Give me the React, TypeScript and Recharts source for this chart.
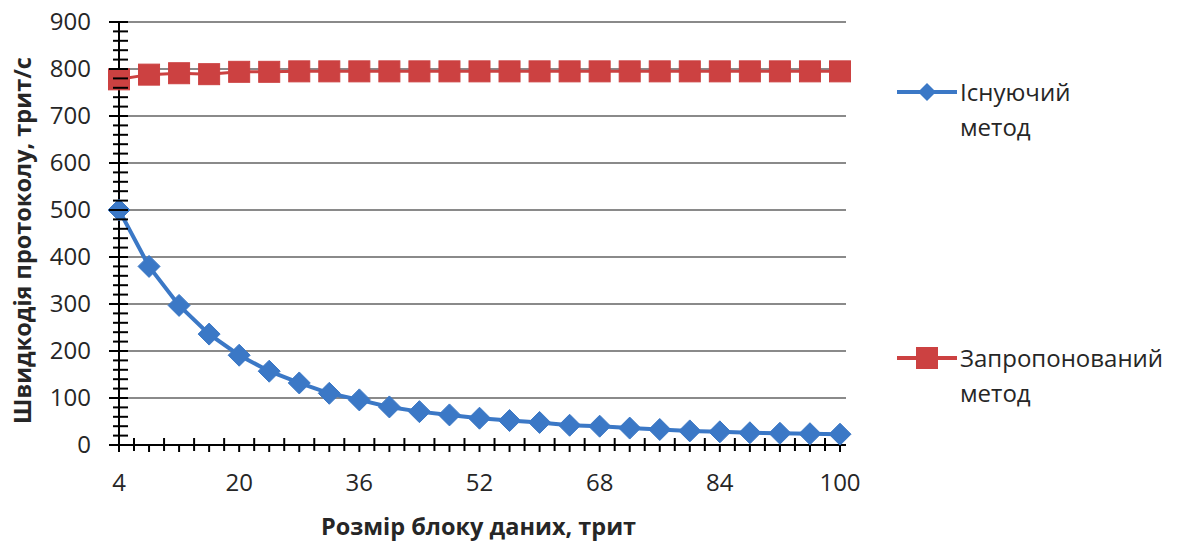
import { LineChart, Line, XAxis, YAxis, CartesianGrid, Legend } from 'recharts'

// block size, trits
const blockSizes = [4, 8, 12, 16, 20, 24, 28, 32, 36, 40, 44, 48, 52, 56, 60, 64, 68, 72, 76, 80, 84, 88, 92, 96, 100]
// protocol speed, trit/s
const existingMethod = [500, 380, 297, 236, 191, 157, 132, 110, 96, 81, 71, 64, 57, 52, 48, 42, 40, 36, 33, 30, 28, 26, 25, 24, 23]
const proposedMethod = [778, 788, 791, 789, 794, 794, 795, 795, 795, 795, 795, 795, 795, 795, 795, 795, 795, 795, 795, 795, 795, 795, 795, 795, 795]

const xTicks = Array.from({ length: 49 }, (_, i) => 4 + i * 2)
const xLabelTicks = [4, 20, 36, 52, 68, 84, 100]
const yMinorTicks = Array.from({ length: 46 }, (_, i) => i * 20)
const yMajorTicks = [0, 100, 200, 300, 400, 500, 600, 700, 800, 900]

const seriesNames = ['Існуючий метод', 'Запропонований метод']

const data = blockSizes.map((x, i) => ({
  x,
  existing: existingMethod[i],
  proposed: proposedMethod[i],
}))

const FONT = '"Open Sans", sans-serif'
const TEXT = '#262626'
const BLUE = '#3b78c6'
const RED = '#cc4141'

function YTick({ x, y, payload }: any) {
  const v = payload.value
  const major = v % 100 === 0
  return (
    <g>
      <line x1={major ? x - 10 : x - 6} x2={x + 9} y1={y} y2={y} stroke="#000" strokeWidth={2} />
      {major && (
        <text x={x - 28} y={y} dy={8} textAnchor="end" fontFamily={FONT} fontSize={24} fill={TEXT}>
          {v}
        </text>
      )}
    </g>
  )
}

function XTick({ x, y, payload }: any) {
  const v = payload.value
  const onPoint = v % 4 === 0
  return (
    <g>
      {onPoint ? (
        <line x1={x} x2={x} y1={y - (v === 4 ? 2 : 0)} y2={y + 7} stroke="#000" strokeWidth={2} />
      ) : (
        <line x1={x} x2={x} y1={y - 7} y2={y + 6} stroke="#000" strokeWidth={2} />
      )}
      {xLabelTicks.includes(v) && (
        <text x={x} y={y + 46} textAnchor="middle" fontFamily={FONT} fontSize={24} fill={TEXT}>
          {v}
        </text>
      )}
    </g>
  )
}

function Diamond({ cx, cy, index }: any) {
  const r = 11
  return (
    <path
      key={`d-${index}`}
      d={`M${cx},${cy - r} L${cx + r},${cy} L${cx},${cy + r} L${cx - r},${cy} Z`}
      fill={BLUE}
      stroke={BLUE}
      strokeWidth={1}
    />
  )
}

function Square({ cx, cy, index }: any) {
  const s = 10.5
  return <rect key={`s-${index}`} x={cx - s} y={cy - s} width={s * 2} height={s * 2} fill={RED} stroke={RED} strokeWidth={1} />
}

function LegendContent() {
  const items = [
    { color: BLUE, lines: ['Існуючий', 'метод'], top: 74, marker: 'diamond' },
    { color: RED, lines: ['Запропонований', 'метод'], top: 340, marker: 'square' },
  ]
  return (
    <div style={{ position: 'relative', width: 290, height: 400 }}>
      {items.map((it) => (
        <div key={it.lines[0]} style={{ position: 'absolute', left: 0, top: it.top - 60 }}>
          <svg width={62} height={36} style={{ position: 'absolute', left: 0, top: 0 }}>
            <line x1={0} x2={60} y1={18} y2={18} stroke={it.color} strokeWidth={4} />
            {it.marker === 'diamond' ? (
              <path d="M30,9 L39,18 L30,27 L21,18 Z" fill={it.color} />
            ) : (
              <rect x={19} y={7} width={22} height={22} fill={it.color} />
            )}
          </svg>
          <div
            style={{
              position: 'absolute',
              left: 63,
              top: 0,
              fontFamily: FONT,
              fontSize: 24,
              lineHeight: '35px',
              color: TEXT,
              whiteSpace: 'nowrap',
            }}
          >
            {it.lines[0]}
            <br />
            {it.lines[1]}
          </div>
        </div>
      ))}
    </div>
  )
}

export default function App() {
  return (
    <div style={{ position: 'absolute', left: 0, top: 0, background: '#fff' }}>
      <LineChart width={1186} height={542} data={data} margin={{ top: 22, right: 340, left: 0, bottom: 0 }}>
        <CartesianGrid vertical={false} horizontalValues={yMajorTicks} stroke="#8a8a8a" strokeWidth={2} />
        <XAxis
          dataKey="x"
          type="number"
          domain={[4, 100]}
          ticks={xTicks}
          interval={0}
          padding={{ left: 0, right: 6 }}
          height={97}
          tickLine={false}
          tickSize={0}
          tickMargin={0}
          tick={<XTick />}
          axisLine={{ stroke: '#000', strokeWidth: 2 }}
          label={{
            value: 'Розмір блоку даних, трит',
            position: 'insideBottom',
            offset: 7,
            dx: -4,
            style: { fontFamily: FONT, fontSize: 23.5, fontWeight: 700, fill: TEXT },
          }}
        />
        <YAxis
          type="number"
          domain={[0, 900]}
          ticks={yMinorTicks}
          interval={0}
          width={119}
          tickLine={false}
          tickSize={0}
          tickMargin={0}
          tick={<YTick />}
          axisLine={{ stroke: '#000', strokeWidth: 2 }}
          label={{
            value: 'Швидкодія протоколу, трит/с',
            angle: -90,
            position: 'center',
            dx: -37,
            dy: 7,
            style: { fontFamily: FONT, fontSize: 23.5, fontWeight: 700, fill: TEXT, textAnchor: 'middle' },
          }}
        />
        <Legend
          layout="horizontal"
          verticalAlign="middle"
          align="center"
          wrapperStyle={{ position: 'absolute', left: 897, top: 60, width: 290 }}
          content={<LegendContent />}
        />
        <Line
          name={seriesNames[1]}
          dataKey="proposed"
          stroke={RED}
          strokeWidth={3}
          dot={<Square />}
          isAnimationActive={false}
        />
        <Line
          name={seriesNames[0]}
          dataKey="existing"
          stroke={BLUE}
          strokeWidth={4}
          dot={<Diamond />}
          isAnimationActive={false}
        />
      </LineChart>
    </div>
  )
}
